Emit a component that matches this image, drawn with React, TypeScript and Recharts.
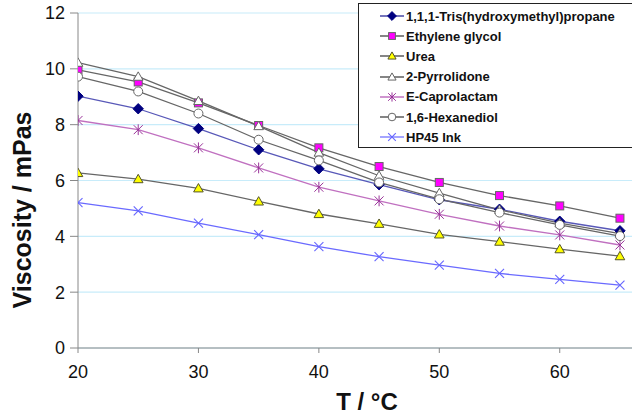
import React from 'react';
import { LineChart, Line, XAxis, YAxis, CartesianGrid, Legend } from 'recharts';

const temperatures = [20, 25, 30, 35, 40, 45, 50, 55, 60, 65];
const trisValues = [9.02, 8.57, 7.86, 7.1, 6.42, 5.85, 5.31, 4.97, 4.54, 4.2];
const ethyleneGlycolValues = [9.96, 9.53, 8.78, 7.97, 7.17, 6.5, 5.93, 5.46, 5.09, 4.65];
const ureaValues = [6.27, 6.05, 5.72, 5.25, 4.8, 4.45, 4.07, 3.81, 3.54, 3.29];
const pyrrolidoneValues = [10.22, 9.72, 8.85, 7.95, 7.0, 6.17, 5.55, 4.95, 4.47, 4.1];
const caprolactamValues = [8.15, 7.82, 7.17, 6.45, 5.76, 5.27, 4.79, 4.37, 4.05, 3.69];
const hexanediolValues = [9.72, 9.19, 8.4, 7.46, 6.72, 5.93, 5.33, 4.85, 4.41, 4.01];
const hp45Values = [5.21, 4.91, 4.47, 4.06, 3.63, 3.27, 2.97, 2.67, 2.46, 2.25];

const xTicks = [20, 30, 40, 50, 60];
const yTicks = [0, 2, 4, 6, 8, 10, 12];

type Kind = 'diamond' | 'square' | 'triangle' | 'circle' | 'star' | 'cross';

interface SeriesDef {
  key: string;
  name: string;
  values: number[];
  line: string;
  legendLine: string;
  kind: Kind;
  fill: string;
  stroke: string;
}

const series: SeriesDef[] = [
  { key: 'tris', name: '1,1,1-Tris(hydroxymethyl)propane', values: trisValues, line: '#5858b8', legendLine: '#1a1a90', kind: 'diamond', fill: '#000080', stroke: '#000080' },
  { key: 'eg', name: 'Ethylene glycol', values: ethyleneGlycolValues, line: '#666666', legendLine: '#333333', kind: 'square', fill: '#ff00ff', stroke: '#666666' },
  { key: 'urea', name: 'Urea', values: ureaValues, line: '#666666', legendLine: '#333333', kind: 'triangle', fill: '#ffff00', stroke: '#55552a' },
  { key: 'pyr', name: '2-Pyrrolidone', values: pyrrolidoneValues, line: '#666666', legendLine: '#333333', kind: 'triangle', fill: '#ffffff', stroke: '#666666' },
  { key: 'cap', name: 'E-Caprolactam', values: caprolactamValues, line: '#c070c0', legendLine: '#b050b0', kind: 'star', fill: 'none', stroke: '#993399' },
  { key: 'hex', name: '1,6-Hexanediol', values: hexanediolValues, line: '#666666', legendLine: '#333333', kind: 'circle', fill: '#ffffff', stroke: '#666666' },
  { key: 'hp', name: 'HP45 Ink', values: hp45Values, line: '#6a6aff', legendLine: '#6a6aff', kind: 'cross', fill: 'none', stroke: '#6666ff' },
];

const data = temperatures.map((t, i) => {
  const row: Record<string, number> = { t };
  series.forEach((s) => {
    row[s.key] = s.values[i];
  });
  return row;
});

function Marker({ kind, cx, cy, fill, stroke, scale = 1 }: { kind: Kind; cx: number; cy: number; fill: string; stroke: string; scale?: number }) {
  const k = scale;
  switch (kind) {
    case 'diamond': {
      const r = 5.2 * k;
      return <polygon points={`${cx},${cy - r} ${cx + r},${cy} ${cx},${cy + r} ${cx - r},${cy}`} fill={fill} stroke={stroke} strokeWidth={1} />;
    }
    case 'square': {
      const h = 4 * k;
      return <rect x={cx - h} y={cy - h} width={2 * h} height={2 * h} fill={fill} stroke={stroke} strokeWidth={1} />;
    }
    case 'triangle': {
      const h = 4.8 * k;
      return <polygon points={`${cx},${cy - h} ${cx + h},${cy + h * 0.75} ${cx - h},${cy + h * 0.75}`} fill={fill} stroke={stroke} strokeWidth={1} />;
    }
    case 'circle':
      return <circle cx={cx} cy={cy} r={4.5 * k} fill={fill} stroke={stroke} strokeWidth={1} />;
    case 'star': {
      const r = 4.5 * k;
      return (
        <g stroke={stroke} strokeWidth={1}>
          <line x1={cx - r} y1={cy - r} x2={cx + r} y2={cy + r} />
          <line x1={cx - r} y1={cy + r} x2={cx + r} y2={cy - r} />
          <line x1={cx} y1={cy - r * 1.2} x2={cx} y2={cy + r * 1.2} />
        </g>
      );
    }
    case 'cross':
    default: {
      const r = 4.5 * k;
      return (
        <g stroke={stroke} strokeWidth={1.1}>
          <line x1={cx - r} y1={cy - r} x2={cx + r} y2={cy + r} />
          <line x1={cx - r} y1={cy + r} x2={cx + r} y2={cy - r} />
        </g>
      );
    }
  }
}

const FONT = '"Liberation Sans", Arial, sans-serif';

function LegendBox() {
  return (
    <div
      style={{
        boxSizing: 'border-box',
        width: 274,
        border: '1px solid #222',
        borderRight: 'none',
        background: '#ffffff',
        paddingTop: 2,
        paddingLeft: 21,
        fontFamily: FONT,
        fontWeight: 'bold',
        fontSize: 13,
        color: '#111',
      }}
    >
      {series.map((s) => (
        <div key={s.key} style={{ display: 'flex', alignItems: 'center', height: 20.2, whiteSpace: 'nowrap' }}>
          <svg width={24} height={20} style={{ display: 'block', marginRight: 2 }}>
            <line x1={0} y1={10} x2={24} y2={10} stroke={s.legendLine} strokeWidth={1.2} />
            <Marker kind={s.kind} cx={12} cy={10} fill={s.fill} stroke={s.stroke} scale={0.85} />
          </svg>
          <span>{s.name}</span>
        </div>
      ))}
    </div>
  );
}

export default function App() {
  return (
    <div style={{ position: 'absolute', left: 0, top: 0, width: 632, height: 414, overflow: 'hidden', background: '#fff' }}>
      <LineChart width={632} height={414} data={data} margin={{ top: 13, right: 0, bottom: 0, left: 0 }}>
        <CartesianGrid horizontal vertical={false} stroke="#c8ecfa" strokeWidth={1.2} />
        <XAxis
          dataKey="t"
          type="number"
          domain={[20, 66]}
          ticks={xTicks}
          allowDataOverflow
          height={66}
          stroke="#888888"
          tickSize={5}
          tickMargin={12}
          tick={{ fill: '#111', fontSize: 18, fontFamily: FONT }}
          label={{
            content: () => (
              <text x={367} y={410} textAnchor="middle" fontFamily={FONT} fontWeight="bold" fontSize={24} fill="#111">
                T / °C
              </text>
            ),
          }}
        />
        <YAxis
          type="number"
          domain={[0, 12]}
          ticks={yTicks}
          width={78}
          stroke="#888888"
          tickSize={8}
          tickMargin={5}
          tick={{ fill: '#111', fontSize: 18, fontFamily: FONT }}
          label={{
            content: () => (
              <text
                x={22}
                y={210}
                transform="rotate(-90 22 210)"
                textAnchor="middle"
                dominantBaseline="central"
                fontFamily={FONT}
                fontWeight="bold"
                fontSize={25}
                fill="#111"
              >
                Viscosity / mPas
              </text>
            ),
          }}
        />
        <Legend
          layout="vertical"
          align="center"
          verticalAlign="middle"
          content={() => <LegendBox />}
          wrapperStyle={{ left: 358, top: 3, width: 274 }}
        />
        {series.map((s) => (
          <Line
            key={s.key}
            dataKey={s.key}
            name={s.name}
            stroke={s.line}
            strokeWidth={1.3}
            isAnimationActive={false}
            dot={(p: any) => (
              <Marker key={`${s.key}-${p.index}`} kind={s.kind} cx={p.cx} cy={p.cy} fill={s.fill} stroke={s.stroke} />
            )}
            activeDot={false}
          />
        ))}
      </LineChart>
    </div>
  );
}
